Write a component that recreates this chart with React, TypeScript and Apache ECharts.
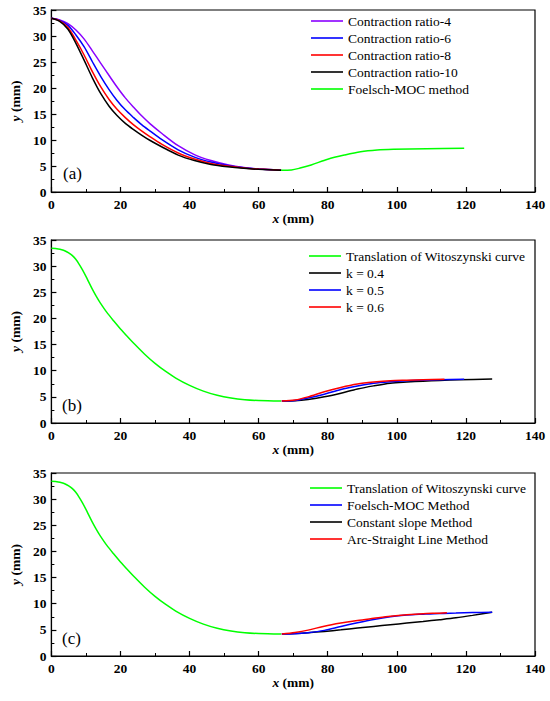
import React, { useEffect, useRef } from "react";
import * as echarts from "echarts";

// ---------- Panel (a) ----------
const aConvX = [0, 2.4, 4.8, 7.1, 9.5, 11.9, 14.3, 16.7, 19, 21.4, 23.8, 26.2, 28.6, 31.9, 36.7, 41.4, 46.2, 51, 55.7, 60, 66.5];
const aRatio4Y = [33.4, 33.1, 32.4, 31.15, 29.4, 27.1, 24.75, 22.4, 20.2, 18.1, 16.3, 14.6, 13.1, 11.3, 8.9, 7.2, 6.05, 5.25, 4.72, 4.42, 4.2];
const aRatio6Y = [33.4, 33.0, 32.05, 30.2, 27.9, 25.0, 22.2, 19.7, 17.6, 15.8, 14.3, 12.9, 11.7, 10.1, 8.1, 6.7, 5.75, 5.1, 4.65, 4.4, 4.2];
const aRatio8Y = [33.4, 32.9, 31.65, 29.2, 26.3, 23.1, 20.2, 17.8, 15.9, 14.3, 12.9, 11.7, 10.6, 9.2, 7.5, 6.35, 5.5, 4.98, 4.6, 4.4, 4.2];
const aRatio10Y = [33.4, 32.8, 31.3, 28.6, 25.3, 21.9, 18.9, 16.5, 14.7, 13.2, 12.0, 10.9, 9.9, 8.7, 7.1, 6.05, 5.3, 4.85, 4.55, 4.37, 4.2];
const aMocX = [66.5, 69.5, 72, 75.2, 80, 84.8, 89.5, 94.3, 99, 108.6, 119.5];
const aMocY = [4.2, 4.25, 4.6, 5.2, 6.3, 7.1, 7.75, 8.08, 8.2, 8.3, 8.4];

// ---------- Shared Witoszynski translation (b, c) ----------
const witX = [0, 2, 3, 4, 5, 6, 7, 8, 9, 10, 11, 12, 13, 14, 16, 18, 20, 22, 24.2, 27, 30, 33, 36, 40, 44, 48, 52, 56, 60, 66.5];
const witY = [33.4, 33.3, 33.15, 32.9, 32.55, 32.05, 31.35, 30.4, 29.3, 28.05, 26.7, 25.4, 24.2, 23.12, 21.2, 19.55, 18.0, 16.55, 15.0, 13.15, 11.4, 9.9, 8.6, 7.2, 6.1, 5.3, 4.77, 4.45, 4.3, 4.2];

// ---------- Panel (b) ----------
const bK4X = [66.7, 70.5, 74.3, 79, 83.8, 88.6, 93.3, 98.1, 102.9, 107.6, 112.4, 118.1, 127.6];
const bK4Y = [4.2, 4.25, 4.5, 5.0, 5.7, 6.5, 7.1, 7.6, 7.83, 8.0, 8.15, 8.28, 8.4];
const bK5X = [66.7, 70.5, 74.3, 79, 83.8, 88.6, 93.3, 98.1, 102.9, 107.6, 112.4, 119.5];
const bK5Y = [4.2, 4.3, 4.77, 5.5, 6.4, 7.06, 7.6, 7.9, 8.1, 8.2, 8.28, 8.38];
const bK6X = [66.7, 70.5, 74.3, 79, 83.8, 88.6, 93.3, 98.1, 102.9, 107.6, 113.8];
const bK6Y = [4.2, 4.4, 5.0, 5.98, 6.8, 7.45, 7.83, 8.1, 8.2, 8.28, 8.38];

// ---------- Panel (c) ----------
const cMocX = [66.7, 70.5, 74.3, 79, 83.8, 88.6, 93.3, 98.1, 102.9, 107.6, 112.4, 117.1, 121.9, 127.6];
const cMocY = [4.2, 4.25, 4.45, 4.9, 5.66, 6.37, 7.0, 7.5, 7.83, 8.0, 8.15, 8.22, 8.3, 8.38];
const cSlopeX = [66.7, 70.5, 74.3, 79, 83.8, 88.6, 93.3, 98.1, 102.9, 107.6, 112.4, 117.1, 121.9, 127.6];
const cSlopeY = [4.2, 4.3, 4.45, 4.7, 5.0, 5.35, 5.66, 5.98, 6.3, 6.6, 6.94, 7.3, 7.77, 8.38];
const cArcX = [66.7, 70.5, 74.3, 79, 83.8, 88.6, 93.3, 98.1, 102.9, 107.6, 112.4, 114.5];
const cArcY = [4.2, 4.5, 4.95, 5.7, 6.3, 6.8, 7.2, 7.6, 7.9, 8.1, 8.2, 8.28];

const legendA = ["Contraction ratio-4", "Contraction ratio-6", "Contraction ratio-8", "Contraction ratio-10", "Foelsch-MOC method"];
const legendB = ["Translation of Witoszynski curve", "k = 0.4", "k = 0.5", "k = 0.6"];
const legendC = ["Translation of Witoszynski curve", "Foelsch-MOC Method", "Constant slope Method", "Arc-Straight Line Method"];
const panelLabels = ["(a)", "(b)", "(c)"];

const FONT = "Liberation Serif";
const PURPLE = "#8A00FF";
const BLUE = "#0000FF";
const RED = "#FF0000";
const BLACK = "#000000";
const GREEN = "#00FF00";

const pairs = (xs: number[], ys: number[]) => xs.map((x, i) => [x, ys[i]]);

export default function App() {
  const ref = useRef<HTMLDivElement>(null);
  useEffect(() => {
    if (!ref.current) return;
    const chart = echarts.init(ref.current, undefined, { renderer: "svg" });
    const grids = [
      { left: 45, top: 10, width: 490, height: 182 },
      { left: 44, top: 240, width: 491, height: 183 },
      { left: 44, top: 473, width: 491, height: 183 },
    ].map((g) => ({ ...g, show: true, borderColor: "#000", borderWidth: 1.2, backgroundColor: "transparent" }));

    const nameStyle = {
      fontFamily: FONT,
      fontWeight: "bold",
      fontSize: 13.5,
      color: "#000",
      rich: { i: { fontFamily: FONT, fontWeight: "bold", fontStyle: "italic", fontSize: 13.5, color: "#000" } },
    };
    const labelStyle = { color: "#000", fontFamily: FONT, fontWeight: "bold", fontSize: 13.5, margin: 5, showMinLabel: true, showMaxLabel: true };
    const common = {
      type: "value",
      axisLine: { show: true, onZero: false, lineStyle: { color: "#000", width: 1.2 } },
      axisTick: { show: true, inside: true, length: 5, lineStyle: { color: "#000", width: 1.2 } },
      minorTick: { show: true, splitNumber: 2, length: 3, lineStyle: { color: "#000", width: 1 } },
      splitLine: { show: false },
      nameLocation: "middle",
      nameTextStyle: nameStyle,
      axisLabel: labelStyle,
    };
    const xAxes = [0, 1, 2].map((gi) => ({
      ...common,
      gridIndex: gi,
      min: 0,
      max: 140,
      interval: 20,
      name: "{i|x} (mm)",
      nameGap: 19,
    }));
    const yAxes = [0, 1, 2].map((gi) => ({
      ...common,
      gridIndex: gi,
      min: 0,
      max: 35,
      interval: 5,
      name: "{i|y} (mm)",
      nameGap: 24,
      nameRotate: 90,
    }));

    const mk = (name: string, color: string, xs: number[], ys: number[], gi: number) => ({
      type: "line",
      name,
      xAxisIndex: gi,
      yAxisIndex: gi,
      data: pairs(xs, ys),
      symbol: "none",
      smooth: 0.3,
      lineStyle: { color, width: 1.5 },
      itemStyle: { color },
    });

    const series = [
      mk(legendA[0], PURPLE, aConvX, aRatio4Y, 0),
      mk(legendA[1], BLUE, aConvX, aRatio6Y, 0),
      mk(legendA[2], RED, aConvX, aRatio8Y, 0),
      mk(legendA[3], BLACK, aConvX, aRatio10Y, 0),
      mk(legendA[4], GREEN, aMocX, aMocY, 0),
      mk(legendB[1], BLACK, bK4X, bK4Y, 1),
      mk(legendB[2], BLUE, bK5X, bK5Y, 1),
      mk(legendB[3], RED, bK6X, bK6Y, 1),
      mk(legendB[0], GREEN, witX, witY, 1),
      mk(legendC[2], BLACK, cSlopeX, cSlopeY, 2),
      mk(legendC[1], BLUE, cMocX, cMocY, 2),
      mk(legendC[3], RED, cArcX, cArcY, 2),
      mk(legendC[0], GREEN, witX, witY, 2),
    ];

    const legendBase = {
      orient: "vertical",
      icon: "rect",
      itemWidth: 32,
      itemHeight: 1.6,
      itemGap: 3,
      padding: 0,
      selectedMode: false,
      textStyle: { fontFamily: FONT, fontSize: 13.5, lineHeight: 14, color: "#000" },
    };

    const labelPos = [
      { x: 63, y: 173 },
      { x: 62, y: 405 },
      { x: 62, y: 638 },
    ];

    chart.setOption({
      animation: false,
      backgroundColor: "#fff",
      grid: grids,
      xAxis: xAxes,
      yAxis: yAxes,
      legend: [
        { ...legendBase, data: legendA, left: 311, top: 14 },
        { ...legendBase, data: legendB, left: 309, top: 249 },
        { ...legendBase, data: legendC, left: 310, top: 481 },
      ],
      graphic: panelLabels.map((t, i) => ({
        type: "text",
        x: labelPos[i].x,
        y: labelPos[i].y,
        style: { text: t, fontFamily: FONT, fontSize: 17, fill: "#000", verticalAlign: "middle" },
      })),
      series,
    });
    return () => chart.dispose();
  }, []);
  return <div ref={ref} style={{ position: "absolute", left: 0, top: 0, width: 550, height: 701 }} />;
}
